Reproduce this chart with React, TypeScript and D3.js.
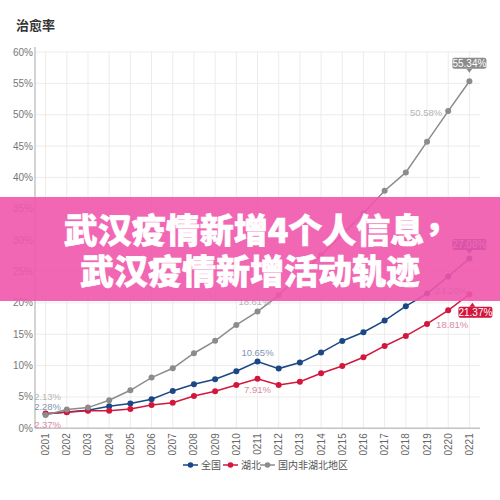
import React from 'react';
import * as d3 from 'd3';

// dates on the x axis
const dates = ['0201', '0202', '0203', '0204', '0205', '0206', '0207', '0208', '0209', '0210', '0211',
  '0212', '0213', '0214', '0215', '0216', '0217', '0218', '0219', '0220', '0221'];

// cure rate, %
const national = [2.28, 2.6, 2.87, 3.51, 3.94, 4.63, 5.96, 7.02, 7.82, 9.1, 10.65,
  9.52, 10.48, 12.08, 13.93, 15.32, 17.18, 19.47, 21.49, 24.2, 27.08];
const hubei = [2.37, 2.55, 2.8, 2.8, 3.08, 3.72, 4.08, 5.15, 5.9, 6.9, 7.91,
  6.9, 7.43, 8.77, 9.94, 11.33, 13.13, 14.73, 16.64, 18.81, 21.37];
const others = [2.13, 2.98, 3.3, 4.47, 6.06, 8.09, 9.57, 11.97, 13.94, 16.49, 18.61,
  21.2, 24.5, 27.6, 30.9, 34.3, 37.87, 40.8, 45.7, 50.58, 55.34];

const yTicks = [0, 5, 10, 15, 20, 25, 30, 35, 40, 45, 50, 55, 60];
const seriesNames = ['全国', '湖北', '国内非湖北地区'];

const series = [
  { name: seriesNames[0], values: national, color: '#1b4785', label: '#7f95b3' },
  { name: seriesNames[1], values: hubei, color: '#d3173c', label: '#d98aa0' },
  { name: seriesNames[2], values: others, color: '#8c8c8c', label: '#b5b5b5' },
];

// which points get a value label (series index, date index, offset from point)
const plainLabels = [
  { s: 2, i: 0, dx: 2, dy: -18, anchor: 'middle' },
  { s: 0, i: 0, dx: 2, dy: -7, anchor: 'middle' },
  { s: 1, i: 0, dx: 2, dy: 11, anchor: 'middle' },
  { s: 0, i: 10, dx: 0, dy: -9, anchor: 'middle' },
  { s: 1, i: 10, dx: 0, dy: 11, anchor: 'middle' },
  { s: 2, i: 10, dx: -3, dy: -10, anchor: 'middle' },
  { s: 2, i: 19, dx: -6, dy: 2, anchor: 'end' },
  { s: 0, i: 19, dx: 3, dy: 14, anchor: 'middle' },
  { s: 1, i: 19, dx: 4, dy: 14, anchor: 'middle' },
];
const boxLabels = [
  { s: 2, i: 20, dx: 0, dy: -18, up: false },
  { s: 0, i: 20, dx: 0, dy: -14, up: false },
  { s: 1, i: 20, dx: 6, dy: 18, up: true },
];

const numFont = '"Liberation Sans", Arial, sans-serif';
const cjkFont = '"Noto Sans CJK SC", sans-serif';

const App = () => {
  const width = 500;
  const height = 500;
  const left = 35;
  const right = 480;
  const top = 52;
  const bottom = 428.3;

  const x = d3.scalePoint<string>().domain(dates).range([left, right]).padding(0.5);
  const y = d3.scaleLinear().domain([0, 60]).range([bottom, top]);

  const line = d3.line<number>()
    .x((_, i) => x(dates[i]) as number)
    .y(d => y(d));

  const fmt = (v: number) => `${v.toFixed(2)}%`;

  return (
    <div style={{ position: 'fixed', left: 0, top: 0 }}>
      <svg width={width} height={height} style={{ display: 'block', background: '#fff' }}>
        <text x={16} y={30} fontFamily={cjkFont} fontSize={13} fontWeight={700} fill="#333">治愈率</text>

        {/* grid */}
        {yTicks.map(t => (
          <line key={'h' + t} x1={left} x2={right} y1={y(t)} y2={y(t)} stroke="#ececec" strokeWidth={1} />
        ))}
        {dates.map(d => (
          <line key={'v' + d} x1={x(d)} x2={x(d)} y1={top} y2={bottom} stroke="#ececec" strokeWidth={1} />
        ))}

        {/* axes */}
        <line x1={left} x2={left} y1={top - 5} y2={bottom} stroke="#c4c4c4" strokeWidth={1.5} />
        <line x1={left} x2={right} y1={bottom} y2={bottom} stroke="#c4c4c4" strokeWidth={1.5} />
        {yTicks.map(t => (
          <text key={'yt' + t} x={left - 2} y={y(t)} dy="0.35em" textAnchor="end"
            fontFamily={numFont} fontSize={10} fill="#777">{t}%</text>
        ))}
        {dates.map(d => (
          <text key={'xt' + d} transform={`translate(${(x(d) as number) + 3.5},${bottom + 5}) rotate(-90)`}
            textAnchor="end" fontFamily={numFont} fontSize={10} fill="#666">{d}</text>
        ))}

        {/* lines + points */}
        {series.map(s => (
          <g key={s.name}>
            <path d={line(s.values) || ''} fill="none" stroke={s.color} strokeWidth={1.5} />
            {s.values.map((v, i) => (
              <circle key={i} cx={x(dates[i])} cy={y(v)} r={3} fill={s.color} />
            ))}
          </g>
        ))}

        {/* value labels */}
        {plainLabels.map((l, k) => {
          const s = series[l.s];
          return (
            <text key={'pl' + k} x={(x(dates[l.i]) as number) + l.dx} y={y(s.values[l.i]) + l.dy}
              dy="0.35em" textAnchor={l.anchor} fontFamily={numFont} fontSize={9.5} fill={s.label}>
              {fmt(s.values[l.i])}
            </text>
          );
        })}
        {boxLabels.map((l, k) => {
          const s = series[l.s];
          const px = x(dates[l.i]) as number;
          const py = y(s.values[l.i]);
          const cx = px + l.dx;
          const cy = py + l.dy;
          const w = 34;
          const h = 11;
          const tip = l.up
            ? `M${px + 3},${cy - h / 2 - 4} L${px},${cy - h / 2} L${px + 6},${cy - h / 2} Z`
            : `M${px - 3},${cy + h / 2} L${px + 3},${cy + h / 2} L${px},${cy + h / 2 + 4} Z`;
          return (
            <g key={'bl' + k}>
              <rect x={cx - w / 2} y={cy - h / 2} width={w} height={h} rx={2} fill={s.color} />
              <path d={tip} fill={s.color} />
              <text x={cx} y={cy} dy="0.36em" textAnchor="middle" fontFamily={numFont}
                fontSize={10} fill="#fff">{fmt(s.values[l.i])}</text>
            </g>
          );
        })}

        {/* legend */}
        {series.map((s, k) => {
          const lx = [183, 223, 260][k];
          return (
            <g key={'lg' + s.name} transform={`translate(${lx},465)`}>
              <line x1={0} x2={15} y1={0} y2={0} stroke={s.color} strokeWidth={1.5} />
              <circle cx={7.5} cy={0} r={2.8} fill={s.color} />
              <text x={18} y={0} dy="0.36em" fontFamily={cjkFont} fontSize={10} fill="#555">{s.name}</text>
            </g>
          );
        })}

        {/* headline banner */}
        <rect x={0} y={197} width={width} height={104} fill="rgb(240,86,172)" fillOpacity={0.9} />
        <g fontFamily={cjkFont} fontSize={34} fontWeight={900} fill="#fff" stroke="#fff" strokeWidth={0.6}
          textAnchor="middle">
          <text x={261} y={231} dy="0.36em">武汉疫情新增4个人信息<tspan dy={-12}>，</tspan></text>
          <text x={250} y={272} dy="0.36em">武汉疫情新增活动轨迹</text>
        </g>
      </svg>
    </div>
  );
};

export default App;
